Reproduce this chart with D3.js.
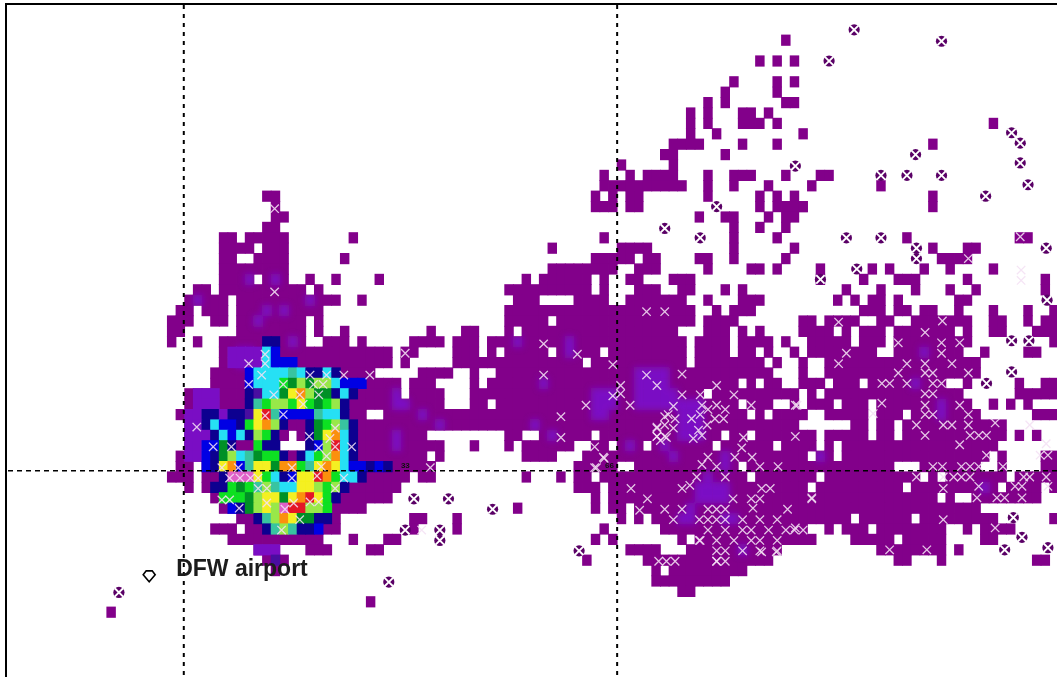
<!DOCTYPE html>
<html><head><meta charset="utf-8">
<script src="https://cdn.jsdelivr.net/npm/d3@7"></script>
<style>html,body{margin:0;background:#fff}svg{display:block}</style></head>
<body><svg id="c" width="1057" height="677"></svg>
<script>
// occupied grid cells per row (column ranges)
const rowIds=[3,5,7,8,9,10,11,12,13,14,15,16,17,18,19,20,21,22,23,24,25,26,27,28,29,30,31,32,33,34,35,36,37,38,39,40,41,42,43,44,45,46,47,48,49,50,51,52,53,54,55,56,57,58];
const rowSpans=[
"90","87,89,91","84,89,91","83,89","81,83,90-91","79,81,85-86,88","79,81,85-87,89,114","79,82,92","77-80,85,89,107","76-77,83",
"71,77","69,72,74-77,81,84-86,94-95,90","69-78,81,84,88,93,101","30-31,68,70,72-73,81,87,89,91,107","31,68-70,72-73,87,89-92,107,92",
"31-32,80,83-84,88,90-91","30-31,84,87,90","25-26,28-32,40,69,84,89,104,117-118","25-28,30-32,63,71-74,84,91,107,111-112",
"25-26,29-32,39,68-72,74-75,80-81,84,90,108-111","25-32,63-70,73-75,81,86-87,89,94,100,102,106,109,114",
"25-28,30-32,35,38,43,60,62-67,69,72-73,77-79,94,99,103-105,111,120",
"22-23,25-34,36,58-67,69,73-75,78-79,83,85,97,101,105,109,112,120",
"21-25,27-38,41,59-61,66-69,72-78,81,85-87,96,98,100-101,103,110-111",
"20-21,23-25,27-36,58-79,82,84-86,99-101,103-104,106-107,110,114,118,121",
"19-21,24-25,27-34,36,58-62,64-79,81-84,92-93,95-98,101-102,105-111,114-115,118,120-121",
"19-20,27-34,36,39,49,53-54,58,60-77,81-83,85,87,92-95,97,99-101,103-109,111,114-115,119-121",
"19,22,25-34,37-39,41,47-50,52-54,56-78,80-83,85-88,90,93-97,99-101,103-111,121",
"25-44,46-47,52-54,56,58-62,64-68,70-78,80-83,85-86,88,91,93-100,103-110,113,118-119",
"25-44,46,52-66,68-78,80-87,89,92,95-112",
"24-42,48-51,54,57-88,92,95-112",
"24-45,47-49,54,56-84,86,88-89,92-94,96-98,100-108,111,117,120-121",
"21-45,47-50,54-80,82-91,93,95-110,117-121",
"21-50,54-55,57-84,86-88,91,93-95,97-99,101-111,114,116,118",
"20-41,44-85,87,89-92,95-99,101-103,105-112,119-121",
"21-91,98-99,101-102,104-115",
"21-32,34-48,58-59,62-67,69-82,84-85,87-93,95-99,101-102,104-115,117,119",
"21-31,35-50,54,58,60-65,68-69,71-73,75-81,83-88,90-93,95,97-114",
"20-48,50,60-63,67-92,94-95,97-113,115,120-121",
"20-21,23-49,66-70,73-84,86-102,106-112,115,120-121",
"19-21,23-46,48-49,60,64,66-67,69-85,87-93,95-105,107,109-115,117-121",
"21,23-45,66-68,70-92,94-103,105-114,116-119,121",
"24-44,68,70-107,109,112-119",
"25-41,59,68,70-71,73-112",
"27-38,47-48,52,71,73,75-97,99-104,106-114,121",
"24-26,28-38,47,52,69,76-92,95,97-99,101-108,111,113-116",
"26-36,40,44-45,68,70,78,80-93,98-102,104-108,113-114",
"29-31,35-37,42-43,72-75,79-89,101-108,110",
"30-32,67,74-88,103-104,108,119-120",
"31,75,77-85","75-83","78-79","42","12"];

// intensity classes of the central core: row number, and one letter per cell starting at column coreStart; "." keeps what is below
const coreStart=21;
const coreRows=[32,33,34,35,36,37,38,39,40,41,42,43,44,45,46,47,48,49,50,52,53];
const coreLevels=[
".........nn",
".....iiiicb",
".....iiiicbbb",
".......bcccctcnncn",
".......bcccgdldllcbbb",
".iii...njccdyolddncn",
".iii...ntgllgygdgln",
"iinninnjyrtbbbbtccn",
"iincbbngyolnppndgltn",
"iiincbcnlgnp.pndyocn",
"iibbdnppgnn...nblrcn",
"iibndlctdggnpncglocn",
"..bnyobtyydoogtyoycbbnbn",
"....nmmmygcnbyyrogccn",
"...nngdgtltccyylgln",
"....gggdlyydyorygn",
".....bndlylmrrllg",
"........ntloyddnn",
".........ntltnnb",
"........iii",
"..........j"];
const levelColor={p:"#82008a",i:"#7a10c4",j:"#4a0aa0",n:"#0a0090",b:"#0000e4",c:"#28e0f4",t:"#38c4a0",d:"#009028",g:"#10e020",l:"#98e848",y:"#f4f020",o:"#fb9010",r:"#e41828",m:"#e060c8"};

// soft violet patches over the purple (column, row)
const violetCols=[45,45,46,48,45,45,50,59,65,65,62,61,63,68,69,69,69,68,70,68,70,73,74,75,76,73,74,75,76,73,74,75,76,77,73,74,75,76,77,78,79,80,78,79,80,78,79,80,78,79,80,72,76,77,83,83,81,80,81,82,83,80,81,82,83,79,78,79,83,84,85,113,94,108,108,106,105,28,31,22,30,32,35,29,27,28,27,28,33];
const violetRows=[37,38,38,39,41,42,40,32,32,33,36,40,41,37,37,38,39,39,37,38,38,35,35,35,35,36,36,36,36,37,37,37,37,37,38,38,38,38,38,38,38,38,39,39,39,40,40,40,41,41,41,42,42,43,43,44,45,46,46,46,46,47,47,47,47,48,49,49,49,49,52,46,43,38,39,33,36,26,26,28,29,29,28,30,33,33,34,34,32];

// isolated reports: a small round dot with a white cross (column, row)
const dotCols=[98.4,108.5,95.5,116.6,117.6,117.6,105.5,101.5,104.5,108.5,118.5,113.6,91.6,82.5,76.5,80.6,97.5,101.5,105.6,105.6,120.6,98.7,94.5,120.7,116.6,118.6,116.6,113.7,47.5,51.5,56.6,46.5,50.5,50.5,66.6,13.4,44.6,116.8,117.8,115.8,120.8];
const dotRows=[2.5,3.6,5.5,12.4,13.4,15.3,14.5,16.5,16.5,16.5,17.4,18.5,15.6,19.5,21.6,22.5,22.5,22.5,23.5,24.5,23.5,25.5,26.5,28.5,32.4,32.4,35.4,36.5,47.6,47.6,48.6,50.6,50.6,51.6,52.6,56.6,55.6,49.4,51.3,52.5,52.3];

// white crosses over filled cells (column, row)
const crossCols=[117.6,117.7,117.7,111.6,48.4,28.4,28.4,22.4,24.3,26.4,40.3,35.4,32.4,30.3,35.5,37.4,39.4,42.4,29.9,30.3,30.3,32.4,34.3,31.3,35.9,37,34.7,36.5,38.4,36.5,38.4,37.8,37.4,36.8,36.3,25.3,27.2,26.2,27.4,28.6,29.5,33.4,33.4,39.4,38.4,30.5,29.5,25.3,26.2,27.3,33.6,35.5,36.5,32.6,34.3,32.2,30.5,31.4,31.4,
46.5,62.5,66.4,70.5,74.4,76.5,62.5,74.4,75.6,71.4,70.5,71.4,72.5,67.4,64.5,64.5,68.4,69.5,68.6,49.4,76.5,75.6,76.5,75.6,78.5,78.5,82.5,84.5,80.6,80.8,81.5,82.5,83.5,83.3,82.3,81.4,80.4,79.8,80.8,79.6,80.6,77.5,76.9,77.7,76.5,77.5,75.6,75.6,76.7,76,86.5,91.8,91.6,85.6,85.4,81.5,80.8,82.5,84.6,86.6,87.5,89.6,83.5,80.2,79.4,78.5,72.6,74.5,73.6,76.5,78.5,77.5,69.4,68.4,84.4,83.5,87.7,88.7,87.5,86.5,86.7,90.7,93.5,76.7,75.8,77.7,82.5,80.6,89.4,87.7,
96.6,97.5,96.6,103.5,106.6,108.6,108.5,108.5,110.6,109.7,104.5,103.5,102.5,101.6,104.5,106.6,106.6,107.5,108.5,107.5,107.5,106.6,111.6,
91.6,101.6,100.6,106.6,106.6,107.5,105.6,106.6,108.7,109.7,110.6,111.6,111.6,111.8,112.8,113.7,114.7,110.6,113.7,112.8,111.8,110.8,107.5,108.6,115.6,105.6,108.7,109.9,110.8,111.8,108.7,112.8,112.6,114.9,115.8,117,118,118.7,117.8,117.8,120.6,120.8,120.6,119.9,120.8,118.7,114.7,108.7,102.5,106.8,91.6,93.5];
const crossRows=[22.4,25.6,26.6,24.5,50.6,34.6,36.6,40.7,42.6,42.6,42.6,41.6,39.5,39.6,35.7,35.7,35.7,35.7,35.7,34.6,33.7,36.6,37.6,37.6,36.6,36.6,38.5,37.6,40.8,42.7,42.6,41.8,43.5,44.5,45.4,44.6,44.6,45.6,45.6,45.6,45.6,44.6,45.6,45.6,46.6,46.6,46.6,47.7,47.7,48.5,48,47.9,47.9,48.6,49.6,50.6,48,19.7,27.7,
33.6,32.7,33.7,34.7,29.6,29.6,35.7,35.7,36.7,36.7,37.7,37.5,38.6,38.6,39.7,41.7,42.6,43.7,44.6,44.6,39.7,40.7,41.6,41.6,35.6,37.6,36.7,37.6,37.6,38.6,39,38.6,39,39.9,39.9,40.5,41,41.8,41.5,39.9,39.5,38.7,39.5,39.9,40.5,40.8,40.8,41.6,41.7,42,38.6,38.6,41.6,41.7,42.7,43.6,44.3,44.5,43.6,43.6,44.5,44.5,45.5,45.5,46.3,46.6,46.6,47.6,48.7,48.6,48.6,49.6,43.6,44.6,47.6,48.6,46.6,46.6,47.6,47.6,48.5,48.6,47.6,53.6,53.6,53.6,53.6,51.6,52.7,52.7,
30.6,33.6,34.6,32.6,31.6,30.5,32.6,33.6,32.6,34.6,34.6,35.5,36.5,36.5,36.5,34.6,35.5,35.5,36.5,36.5,37.5,37.5,35.5,
38.6,38.4,39.4,38.6,39.5,39.5,40.5,41.5,40.5,40.5,38.6,39.5,40.5,41.5,41.5,41.5,40.3,42.4,43.4,44.5,44.5,44.5,44.5,44.5,44.5,45.5,45.5,45.5,45.5,45.5,46.6,46.4,47.5,47.5,47.5,46.4,45.5,45.5,46.4,47.5,45.5,46.4,42.3,43.4,43.4,40.5,50.4,49.6,52.5,52.5,50.4,47.5];

// dense cross lattice in the south-east patch: row and its columns
const latticeRow=[48,49,50,51,52,53];
const latticeCols=[[81,82],[80,81,82,83,85,87,89],[81,83,85,86,88,90,91,92],[80,82,84,86,87,89],[82,83,85,87,89],[82,83]];

const gridColumns=[20.9,71];
const gridRowValue=44.9;
const cornerLabels=[{c:46,r:44.6,t:"33"},{c:69.6,r:44.6,t:"66"}];
const airport={name:"DFW airport",c:16.9,r:55.1};

const svg=d3.select("#c");
const x=d3.scaleLinear().domain([0,122]).range([3,3+122*8.65]);
const y=d3.scaleLinear().domain([0,65]).range([3.8,3.8+65*10.4]);

const defs=svg.append("defs");
defs.append("filter").attr("id","soft").attr("x","-5%").attr("y","-5%").attr("width","110%").attr("height","110%")
 .append("feGaussianBlur").attr("stdDeviation",0.5);
defs.append("filter").attr("id","halo").attr("x","-5%").attr("y","-5%").attr("width","110%").attr("height","110%")
 .append("feGaussianBlur").attr("stdDeviation",3);

const g=svg.append("g").attr("filter","url(#soft)");

const baseCells=[];
rowIds.forEach((r,i)=>rowSpans[i].split(",").forEach(s=>{
  const p=s.split("-").map(Number),a=p[0],b=p.length>1?p[1]:p[0];
  d3.range(a,b+1).forEach(c=>baseCells.push({c,r,l:"p"}));
}));
const coreCells=[];
coreRows.forEach((r,i)=>Array.from(coreLevels[i]).forEach((ch,k)=>{
  if(levelColor[ch]) coreCells.push({c:coreStart+k,r,l:ch});
}));
function drawCells(sel,cls,data){
  sel.selectAll("rect."+cls).data(data).join("rect").attr("class",cls)
   .attr("x",d=>x(d.c)-0.4).attr("y",d=>y(d.r)-0.4)
   .attr("width",d=>x(d.c+1)-x(d.c)+0.8).attr("height",d=>y(d.r+1)-y(d.r)+0.8)
   .attr("fill",d=>levelColor[d.l]);
}
drawCells(g,"base",baseCells);

// violet patches are soft and stay inside the filled area
const filled=new Set(baseCells.map(d=>d.c+":"+d.r));
const clip=defs.append("clipPath").attr("id","area");
clip.selectAll("rect").data(baseCells).join("rect")
 .attr("x",d=>x(d.c)).attr("y",d=>y(d.r)).attr("width",x(1)-x(0)+0.5).attr("height",y(1)-y(0)+0.5);
const vg=g.append("g").attr("clip-path","url(#area)").append("g").attr("filter","url(#halo)");
const violet=violetCols.map((c,i)=>({c,r:violetRows[i],l:"i"})).filter(d=>filled.has(d.c+":"+d.r));
drawCells(vg,"violet",violet);

drawCells(g,"core",coreCells);

// grid lines
gridColumns.forEach(c=>{
  g.append("line").attr("x1",x(c)).attr("x2",x(c)).attr("y1",5).attr("y2",677)
   .attr("stroke","#000").attr("stroke-width",2).attr("stroke-dasharray","4 5");
});
g.append("line").attr("x1",8).attr("x2",1057).attr("y1",y(gridRowValue)).attr("y2",y(gridRowValue))
 .attr("stroke","#000").attr("stroke-width",1.5).attr("stroke-dasharray","5 4");

// isolated dots
const dots=dotCols.map((c,i)=>({c,r:dotRows[i]}));
g.selectAll("circle.dot").data(dots).join("circle").attr("class","dot")
 .attr("cx",d=>x(d.c)).attr("cy",d=>y(d.r)).attr("r",5.6).attr("fill","#5a0066");
const xPath=(d,arm)=>{const a=x(d.c),b=y(d.r);return `M${a-arm},${b-arm}L${a+arm},${b+arm}M${a-arm},${b+arm}L${a+arm},${b-arm}`;};
g.selectAll("path.dx").data(dots).join("path").attr("class","dx")
 .attr("d",d=>xPath(d,4.2)).attr("stroke","#fff").attr("stroke-width",1.9).attr("fill","none");

const crossPts=[];
crossCols.forEach((c,i)=>crossPts.push({c,r:crossRows[i]}));
latticeRow.forEach((r,i)=>latticeCols[i].forEach(c=>crossPts.push({c:c+0.5,r:r+0.6})));
g.selectAll("path.x").data(crossPts).join("path").attr("class","x")
 .attr("d",d=>xPath(d,4.2)).attr("stroke","#f4e0f4").attr("stroke-width",1.3).attr("stroke-opacity",0.88).attr("fill","none");

// crossing labels
cornerLabels.forEach(l=>{
  g.append("text").attr("x",x(l.c)).attr("y",y(l.r)).attr("font-family","Liberation Sans").attr("font-size",8).attr("font-weight","bold").attr("fill","#111").text(l.t);
});

// airport
const ax=x(airport.c),ay=y(airport.r);
g.append("path").attr("d",`M${ax-6},${ay-2}L${ax-3},${ay-6}L${ax+3},${ay-6}L${ax+6},${ay-2}L${ax},${ay+5}Z`)
 .attr("fill","#fff").attr("stroke","#000").attr("stroke-width",1.6);
g.append("text").attr("x",ax+27).attr("y",ay-1).attr("font-family","Liberation Sans").attr("font-weight","bold")
 .attr("font-size",23).attr("fill","#1a1a1a").text(airport.name);

// frame
g.append("line").attr("x1",6).attr("x2",6).attr("y1",3).attr("y2",677).attr("stroke","#000").attr("stroke-width",2);
g.append("line").attr("x1",5).attr("x2",1057).attr("y1",4).attr("y2",4).attr("stroke","#000").attr("stroke-width",2);
</script></body></html>
